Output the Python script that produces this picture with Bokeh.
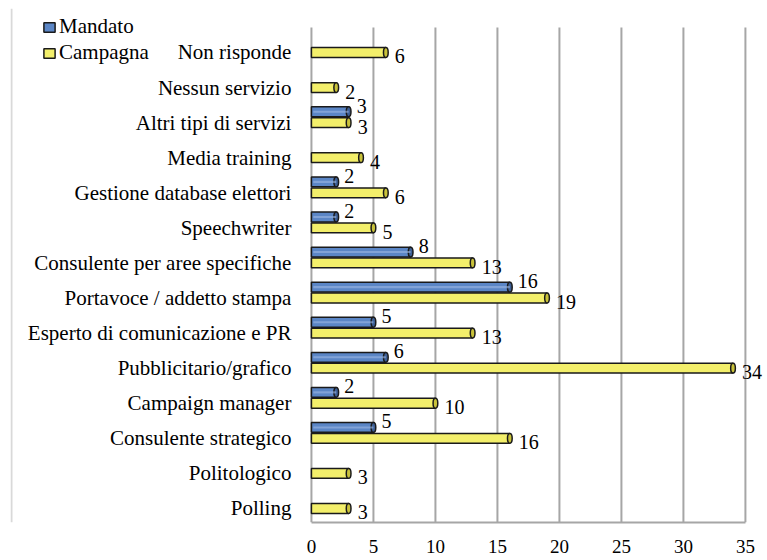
from bokeh.plotting import figure
from bokeh.models import (ColumnDataSource, FixedTicker, Legend, LegendItem, Range1d, Span)
from bokeh.embed import file_html
from bokeh.resources import INLINE
from bokeh.core.properties import value

# ---- data (top to bottom as in the chart) ----
categories = [
    "Non risponde",
    "Nessun servizio",
    "Altri tipi di servizi",
    "Media training",
    "Gestione database elettori",
    "Speechwriter",
    "Consulente per aree specifiche",
    "Portavoce / addetto stampa",
    "Esperto di comunicazione e PR",
    "Pubblicitario/grafico",
    "Campaign manager",
    "Consulente strategico",
    "Politologico",
    "Polling",
]
mandato = [0, 0, 3, 0, 2, 2, 8, 16, 5, 6, 2, 5, 0, 0]
campagna = [6, 2, 3, 4, 6, 5, 13, 19, 13, 34, 10, 16, 3, 3]
x_ticks = [0, 5, 10, 15, 20, 25, 30, 35]

n = len(categories)
pos = [n - 1 - i for i in range(n)]
BLUE_OFF = 0.31
BAR_H = 0.28

X_START, X_END = -24.27, 36.70
Y_START, Y_END = -0.4, 14.254
GRID_TOP = 13.712

FONT = "Liberation Serif"

src_c = ColumnDataSource(dict(y=pos, v=campagna, lab=[str(v) for v in campagna]))
mb = [(p_ + BLUE_OFF, v) for p_, v in zip(pos, mandato) if v > 0]
src_m = ColumnDataSource(dict(y=[a for a, _ in mb], v=[b for _, b in mb],
                              lab=[str(b) for _, b in mb]))
src_cat = ColumnDataSource(dict(y=pos, t=categories, x=[0] * n))

p = figure(width=766, height=556, output_backend="svg", toolbar_location=None,
           x_range=Range1d(X_START, X_END), y_range=Range1d(Y_START, Y_END),
           min_border_left=10, min_border_right=0, min_border_top=8,
           min_border_bottom=34)
p.outline_line_color = None
p.background_fill_color = "white"
p.yaxis.visible = False
p.grid.visible = False

# faint chart-area border on the left
p.add_layout(Span(location=X_START + 0.08, dimension="height",
                  line_color="#d9d9d9", line_width=2))

# back-wall grid lines
p.segment(x0=x_ticks, x1=x_ticks, y0=[Y_START] * len(x_ticks),
          y1=[GRID_TOP] * len(x_ticks), line_color="#a6a6a6", line_width=2)

# bars (cylinders)
yb = p.hbar(y="y", left=0, right="v", height=BAR_H, source=src_c,
            fill_color="#F3EF6B", line_color="#1a1a1a", line_width=1.5)
p.ellipse(x="v", y="y", width=0.38, height=BAR_H, source=src_c,
          fill_color="#C9C23A", line_color="#1a1a1a", line_width=1.5)
bb = p.hbar(y="y", left=0, right="v", height=BAR_H, source=src_m,
            fill_color="#5B86C6", line_color="#1a1a1a", line_width=1.5)
p.ellipse(x="v", y="y", width=0.38, height=BAR_H, source=src_m,
          fill_color="#3D5F95", line_color="#1a1a1a", line_width=1.5)
p.hbar(y="y", left=0.15, right="v", height=0.06, source=src_m,
       fill_color="#9DB8E2", fill_alpha=0.6, line_color=None)

# value labels
p.text(x="v", y="y", text="lab", source=src_c, x_offset=9, y_offset=4,
       text_font=value(FONT), text_font_size="20px", text_color="black",
       text_align="left", text_baseline="middle")
p.text(x="v", y="y", text="lab", source=src_m, x_offset=8, y_offset=-6,
       text_font=value(FONT), text_font_size="20px", text_color="black",
       text_align="left", text_baseline="middle")

# category labels
p.text(x="x", y="y", text="t", source=src_cat, x_offset=-20,
       text_font=value(FONT), text_font_size="21px", text_color="black",
       text_align="right", text_baseline="middle")

# x axis
xa = p.xaxis[0]
xa.ticker = FixedTicker(ticks=x_ticks)
xa.bounds = (0, 35)
xa.axis_line_color = "#a6a6a6"
xa.axis_line_width = 2
xa.major_tick_line_color = None
xa.minor_tick_line_color = None
xa.major_tick_out = 0
xa.major_label_standoff = 17
xa.major_label_text_font = FONT
xa.major_label_text_font_size = "19px"
xa.major_label_text_color = "black"

legend = Legend(items=[LegendItem(label="Mandato", renderers=[bb]),
                       LegendItem(label="Campagna", renderers=[yb])],
                location=(32, 457))
legend.border_line_color = None
legend.background_fill_alpha = 0
legend.padding = 0
legend.margin = 0
legend.spacing = 1
legend.glyph_width = 14
legend.glyph_height = 12
legend.label_height = 20
legend.label_standoff = 3
legend.label_text_font = FONT
legend.label_text_font_size = "21px"
legend.label_text_color = "black"
p.add_layout(legend, "center")

open("out.html", "w").write(file_html(p, INLINE))
